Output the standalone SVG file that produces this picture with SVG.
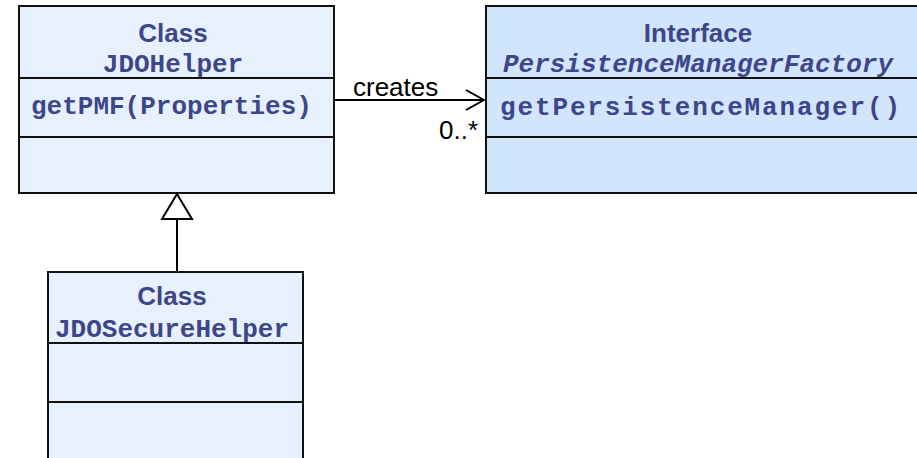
<svg xmlns="http://www.w3.org/2000/svg" width="917" height="458" viewBox="0 0 917 458">
  <style>
    .cls { fill: #e7f1fd; stroke: #111; stroke-width: 2; }
    .ifc { fill: #d1e5fc; stroke: #111; stroke-width: 2; }
    .sep { stroke: #111; stroke-width: 2; }
    .kind { font-family: "Liberation Sans", Arial, sans-serif; font-weight: bold; font-size: 26px; fill: #3d4689; text-anchor: middle; }
    .name { font-family: "Liberation Mono", "Courier New", monospace; font-weight: bold; font-size: 26px; fill: #3d4689; text-anchor: middle; }
    .op { font-family: "Liberation Mono", "Courier New", monospace; font-weight: bold; font-size: 26px; fill: #3d4689; }
    .lbl { font-family: "Liberation Sans", Arial, sans-serif; font-size: 26px; fill: #000; }
    .edge { stroke: #000; stroke-width: 2; fill: none; }
    .head { fill: #fff; stroke: #000; stroke-width: 2; }
  </style>
  <defs>
    <marker id="open" viewBox="0 0 20 24" refX="19" refY="12" markerWidth="20" markerHeight="24" markerUnits="userSpaceOnUse" orient="auto">
      <path d="M1,2 L19,12 L1,22" fill="none" stroke="#000" stroke-width="2"/>
    </marker>
  </defs>

  <g id="JDOHelper">
    <rect class="cls" x="19" y="6" width="315" height="187"/>
    <line class="sep" x1="19" y1="78" x2="334" y2="78"/>
    <line class="sep" x1="19" y1="137" x2="334" y2="137"/>
    <text class="kind" x="173" y="42">Class</text>
    <text class="name" x="173" y="72">JDOHelper</text>
    <text class="op" x="31" y="114">getPMF(Properties)</text>
  </g>

  <g id="PersistenceManagerFactory">
    <rect class="ifc" x="486" y="6" width="440" height="187"/>
    <line class="sep" x1="486" y1="78" x2="917" y2="78"/>
    <line class="sep" x1="486" y1="137" x2="917" y2="137"/>
    <text class="kind" x="698" y="42">Interface</text>
    <text class="name" x="698" y="72" font-style="italic">PersistenceManagerFactory</text>
    <text class="op" x="500" y="115" font-size="28" textLength="400" lengthAdjust="spacing">getPersistenceManager()</text>
  </g>

  <g id="JDOSecureHelper">
    <rect class="cls" x="48" y="272" width="255" height="200"/>
    <line class="sep" x1="48" y1="343" x2="303" y2="343"/>
    <line class="sep" x1="48" y1="402" x2="303" y2="402"/>
    <text class="kind" x="172" y="305">Class</text>
    <text class="name" x="172" y="337">JDOSecureHelper</text>
  </g>

  <g id="connectors">
    <line class="edge" x1="334" y1="100" x2="484" y2="100" marker-end="url(#open)"/>
    <text class="lbl" x="353" y="96">creates</text>
    <text class="lbl" x="478" y="139" text-anchor="end">0..*</text>
    <line class="edge" x1="177" y1="271" x2="177" y2="219"/>
    <polygon class="head" points="177,194 192,219 162,219"/>
  </g>
</svg>
